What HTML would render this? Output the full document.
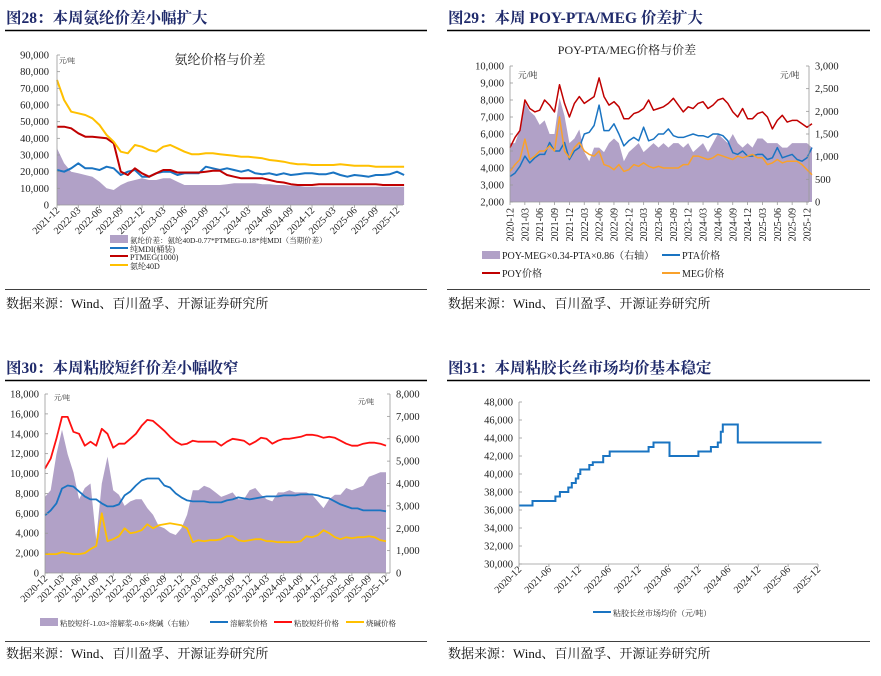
<!DOCTYPE html>
<html><head><meta charset="utf-8"><style>
html,body{margin:0;padding:0;background:#fff;}
svg{display:block;font-family:"Liberation Serif","Noto Serif CJK SC",serif;}
</style></head><body>
<svg id="s" width="881" height="676" viewBox="0 0 881 676" xmlns="http://www.w3.org/2000/svg">
<g font-weight="bold" font-size="15.5" fill="#1f2a6b">
<text x="6" y="23">图28：本周氨纶价差小幅扩大</text>
<text x="448" y="23">图29：本周 POY-PTA/MEG 价差扩大</text>
<text x="6" y="373">图30：本周粘胶短纤价差小幅收窄</text>
<text x="448" y="373">图31：本周粘胶长丝市场均价基本稳定</text>
</g>
<g stroke="#000" stroke-width="1.6">
<line x1="5" y1="30.5" x2="427" y2="30.5"/><line x1="447" y1="30.5" x2="870" y2="30.5"/>
<line x1="5" y1="380.5" x2="427" y2="380.5"/><line x1="447" y1="380.5" x2="870" y2="380.5"/>
</g>
<g stroke="#000" stroke-width="0.8">
<line x1="5" y1="289.5" x2="427" y2="289.5"/><line x1="447" y1="289.5" x2="870" y2="289.5"/>
<line x1="5" y1="641.5" x2="427" y2="641.5"/><line x1="447" y1="641.5" x2="870" y2="641.5"/>
</g>
<g font-size="13" fill="#111">
<text x="6" y="308">数据来源：Wind、百川盈孚、开源证券研究所</text>
<text x="448" y="308">数据来源：Wind、百川盈孚、开源证券研究所</text>
<text x="6" y="658">数据来源：Wind、百川盈孚、开源证券研究所</text>
<text x="448" y="658">数据来源：Wind、百川盈孚、开源证券研究所</text>
</g>
</svg>
<script>
// ---------- Chart 28 data (months from 2021-12, values in 万? thousand yuan) ----------
var c1Spread=[34,25,20,19,18,17,14,10,9,12,14,15,16,15,15,16,16,14,12,12,12,12,12,12,12.5,13,13,13,13,12.5,12.5,12,12,11.5,11.5,11,11,11,11,11,11,11,11,11,11,11,11,11,11,11];
var c1Mdi=[21,20,22,25,22,22,21,23,22,18,20,21,17,17,19,20,20,18,19,19,19,23,22,21,22,21,20,21,19,18.5,19,18,19,18,18.5,19,19,18.5,18.5,19.5,18,17,18,17.5,17,18,18,18.5,20,18];
var c1Ptmeg=[47,47,46,43,41,41,40.5,40,37,20,18,22,19,17,19,21,21,19.5,19.5,19.5,19.5,20,20.5,20.5,18,17,16,16,16,16,15,14,13.5,12.5,12,12,12,12.5,12.5,12.5,12.5,12.5,12.5,12.5,12.5,12.5,12,12,12,12];
var c1Spandex=[75,63,56,55,54,52,48,42,38,32,31,36,35,33,32,35,36,34,32,30.5,30.5,31,31,30.5,30,29.5,29,29,28.5,28,27,26.5,26,25,24.5,24.5,24,24,24,24,24.5,24,23.5,23.5,23.5,23,23,23,23,23];
var c1Ticks=["2021-12","2022-03","2022-06","2022-09","2022-12","2023-03","2023-06","2023-09","2023-12","2024-03","2024-06","2024-09","2024-12","2025-03","2025-06","2025-09","2025-12"];
var c1YTicks=[0,10000,20000,30000,40000,50000,60000,70000,80000,90000];
// ---------- Chart 29 data (months from 2020-12) ----------
var c2Poy=[5.2,5.8,6.2,8.0,7.5,7.3,7.4,8.0,7.7,7.3,8.9,7.8,7.0,7.8,8.2,7.8,8.0,8.2,9.3,8.2,7.7,7.9,7.6,6.9,6.9,7.2,7.3,7.5,8.0,7.4,7.5,7.6,7.8,8.1,7.7,7.3,7.6,7.5,7.8,7.9,7.5,7.7,8.0,8.1,7.8,7.3,7.0,7.5,6.9,6.9,7.2,7.3,7.0,6.3,6.8,7.1,6.7,6.8,6.8,6.6,6.4,6.6];
var c2Pta=[3.5,3.7,4.1,4.7,4.3,4.6,4.8,4.8,5.5,5.0,5.0,5.5,4.5,5.0,5.2,6.0,6.1,6.5,7.7,6.2,6.2,6.6,6.0,5.3,5.6,5.8,5.6,6.4,5.6,5.7,6.0,6.0,6.3,5.9,5.8,5.8,5.9,6.0,5.9,5.9,5.8,6.0,6.0,5.9,5.6,4.9,4.8,5.0,4.7,4.7,4.8,4.8,4.5,4.6,5.2,4.6,4.7,4.8,4.5,4.4,4.6,5.2];
var c2Meg=[3.8,4.2,4.5,5.7,4.5,4.7,5.0,5.0,5.3,5.0,7.0,5.0,4.6,5.2,5.5,5.0,4.8,4.7,5.0,4.2,4.1,3.9,4.2,3.8,3.9,4.2,4.1,4.3,4.1,4.0,4.1,4.0,4.0,4.0,4.0,4.2,4.2,4.7,4.7,4.6,4.5,4.6,4.8,4.7,4.6,4.5,4.7,4.6,4.7,4.8,4.6,4.6,4.2,4.3,4.5,4.3,4.4,4.4,4.4,4.2,3.9,3.6];
var c2Spread=[1300,1300,1600,2200,2000,1900,1700,1800,1500,1500,2300,1900,1300,1400,1600,1100,900,1200,1200,1100,1300,1400,1300,900,1100,1200,1300,1100,1200,1300,1200,1300,1200,1300,1300,1200,1300,1100,1200,1300,1100,1300,1500,1400,1300,1500,1300,1200,1300,1200,1400,1400,1300,1300,1300,1200,1200,1300,1300,1300,1300,1200];
var c2Ticks=["2020-12","2021-03","2021-06","2021-09","2021-12","2022-03","2022-06","2022-09","2022-12","2023-03","2023-06","2023-09","2023-12","2024-03","2024-06","2024-09","2024-12","2025-03","2025-06","2025-09","2025-12"];
var c2YTicks=[2000,3000,4000,5000,6000,7000,8000,9000,10000];
var c2RTicks=[0,500,1000,1500,2000,2500,3000];
// ---------- Chart 30 data ----------
var c3Staple=[10.5,11.5,13.5,15.7,15.7,14.2,14.0,12.8,13.2,12.8,14.5,14.0,12.6,13.0,13.0,13.5,14.0,14.8,15.4,15.3,14.8,14.3,13.7,13.2,12.9,13.0,13.3,13.2,13.2,13.2,13.2,12.8,13.2,13.5,13.4,13.3,12.9,13.2,13.6,13.5,13.0,13.3,13.5,13.5,13.6,13.7,13.9,13.9,13.8,13.6,13.7,13.6,13.3,13.0,12.8,12.8,13.0,13.1,13.1,13.0,12.8];
var c3Pulp=[5.8,6.3,7.0,8.5,8.8,8.7,8.2,7.7,7.4,7.4,7.0,6.7,6.7,6.9,7.8,8.2,8.8,9.3,9.5,9.5,9.5,8.8,8.6,8.0,7.6,7.3,7.2,7.2,7.2,7.1,7.1,7.1,7.3,7.4,7.6,7.5,7.4,7.5,7.6,7.7,7.7,7.7,7.8,7.8,7.8,7.9,7.9,7.9,7.8,7.6,7.5,7.2,6.9,6.7,6.5,6.5,6.3,6.3,6.3,6.3,6.2];
var c3Soda=[1.9,1.9,1.9,2.1,2.0,1.9,1.9,2.0,2.4,2.7,6.0,3.2,3.4,3.7,4.5,4.0,4.1,4.3,4.9,4.5,4.8,4.9,5.0,4.9,4.8,4.5,3.1,3.3,3.2,3.3,3.3,3.4,3.7,3.7,3.3,3.2,3.3,3.4,3.4,3.2,3.2,3.1,3.1,3.1,3.1,3.2,3.7,3.6,3.8,4.3,4.0,3.6,3.4,3.6,3.5,3.6,3.6,3.7,3.6,3.3,3.2];
var c3Spread=[3400,3700,5300,6400,5300,4500,3300,3800,4000,1500,4000,5200,3700,3500,3000,3200,3300,3300,2900,2600,2100,2000,1800,1700,2000,2600,3700,3700,3900,3800,3600,3400,3500,3600,3300,3300,3700,3800,3500,3300,3200,3600,3600,3700,3600,3600,3600,3500,3200,2900,3300,3500,3500,3800,3700,3800,3900,4300,4400,4500,4500];
var c3Ticks=c2Ticks;
var c3YTicks=[0,2000,4000,6000,8000,10000,12000,14000,16000,18000];
var c3RTicks=[0,1000,2000,3000,4000,5000,6000,7000,8000];
// ---------- Chart 31 data (step changes) ----------
var c4StepMonths=[0,2.7,7.3,8.2,9.9,10.6,11.4,11.9,12.3,14.1,14.8,16.9,18.2,26,27,30.2,36,38.5,39.9,40.5,40.9,43.9,60.7];
var c4StepValues=[36500,37000,37500,38000,38500,39000,39500,40000,40500,41000,41300,42000,42500,43000,43500,42000,42500,43000,43500,44700,45500,43500,43500];
var c4Ticks=["2020-12","2021-06","2021-12","2022-06","2022-12","2023-06","2023-12","2024-06","2024-12","2025-06","2025-12"];
var c4YTicks=[30000,32000,34000,36000,38000,40000,42000,44000,46000,48000];

var NS="http://www.w3.org/2000/svg", S=document.getElementById('s');
function mk(tag,attrs,parent){var e=document.createElementNS(NS,tag);for(var k in attrs)e.setAttribute(k,attrs[k]);(parent||S).appendChild(e);return e;}
function fmt(v){return v.toLocaleString('en-US');}
function lin(d0,d1,r0,r1){return function(v){return r0+(v-d0)*(r1-r0)/(d1-d0);};}
function line(arr,xs,ys,col,w,mul){var p=arr.map(function(v,i){return xs(i).toFixed(1)+','+ys(v*mul).toFixed(1);}).join(' ');
 var e=mk('polyline',{points:p,fill:'none',stroke:col,'stroke-width':w,'stroke-linejoin':'round'});return e;}
function area(arr,xs,ys,base,col){var p=xs(0).toFixed(1)+','+base+' '+arr.map(function(v,i){return xs(i).toFixed(1)+','+ys(v).toFixed(1);}).join(' ')+' '+xs(arr.length-1).toFixed(1)+','+base;
 return mk('polygon',{points:p,fill:col,stroke:'none'});}
function yAxis(ticks,ys,x,anchor,dx){ticks.forEach(function(t){var tx=mk('text',{x:x+dx,y:ys(t)+3.5,'font-size':10.5,'text-anchor':anchor,fill:'#222'});tx.textContent=fmt(t);
 
 
 mk('line',{x1:x,x2:x+(anchor=='end'?3:-3),y1:ys(t),y2:ys(t),stroke:'#999','stroke-width':0.8});});
 mk('line',{x1:x,x2:x,y1:ys(ticks[0]),y2:ys(ticks[ticks.length-1]),stroke:'#999','stroke-width':0.8});}
function xAxis(ticks,step,xs,y,x0,x1,rot){mk('line',{x1:x0,x2:x1,y1:y,y2:y,stroke:'#999','stroke-width':0.8});
 ticks.forEach(function(t,i){var x=xs(i*step);mk('line',{x1:x,x2:x,y1:y,y2:y+3,stroke:'#999','stroke-width':0.8});
 var tx=mk('text',{x:0,y:0,'font-size':10,'text-anchor':'end',fill:'#222',transform:'translate('+(x+(rot==-90?3.5:3))+','+(y+6)+') rotate('+rot+')'});tx.textContent=t;
 
 });}
function label(x,y,txt,size,anchor,name){var t=mk('text',{x:x,y:y,'font-size':size,'text-anchor':anchor||'start',fill:'#222'});t.textContent=txt;
 
 return t;}
function legSw(x,y,col,kind,name,txt,size){var g=mk('g',{});
 
 
 if(kind=='area')mk('rect',{x:x,y:y-4,width:18,height:8,fill:col},g);else mk('line',{x1:x,x2:x+18,y1:y,y2:y,stroke:col,'stroke-width':2},g);
 var t=mk('text',{x:x+20,y:y+4,'font-size':size||10.5,fill:'#222'},g);t.textContent=txt;}

// Chart 28
(function(){var xs=lin(0,48,57,397),ys=lin(0,90000,205,55);
 area(c1Spread.map(function(v){return v*1000;}),xs,ys,205,'#b1a1c7');
 line(c1Mdi,xs,ys,'#1a74c2',2,1000);
 line(c1Ptmeg,xs,ys,'#c00000',2,1000);
 line(c1Spandex,xs,ys,'#ffc000',2,1000);
 yAxis(c1YTicks,ys,57,'end',-8);xAxis(c1Ticks,3,xs,205,57,403,-45);
 label(220,64,'氨纶价格与价差',13,'middle','chart28-title');label(59,63,'元/吨',7,'start','y-unit-28');
 legSw(110,239,'#b1a1c7','area','legend-spread-28','氨纶价差：氨纶40D-0.77*PTMEG-0.18*纯MDI（当期价差）',7.5);
 legSw(110,248,'#1a74c2','line','legend-mdi','纯MDI(桶装)',8);
 legSw(110,256,'#c00000','line','legend-ptmeg','PTMEG(1000)',8);
 legSw(110,265,'#ffc000','line','legend-spandex','氨纶40D',8);})();
// Chart 29
(function(){var xs=lin(0,60,510,807),ys=lin(2000,10000,202,66),yr=lin(0,3000,202,66);
 area(c2Spread,xs,yr,202,'#b1a1c7');
 line(c2Poy,xs,ys,'#c00000',1.5,1000);
 line(c2Pta,xs,ys,'#1a74c2',1.5,1000);
 line(c2Meg,xs,ys,'#f9a12b',1.5,1000);
 yAxis(c2YTicks,ys,510,'end',-6);yAxis(c2RTicks,yr,809,'start',6);xAxis(c2Ticks,3,xs,202,510,809,-90);
 label(627,54,'POY-PTA/MEG价格与价差',12,'middle','chart29-title');label(518,78,'元/吨',8.5,'start','y-unit-29');label(780,78,'元/吨',8.5,'start','y-unit-29-right');
 legSw(482,255,'#b1a1c7','area','legend-spread-29','POY-MEG×0.34-PTA×0.86（右轴）',10);
 legSw(662,255,'#1a74c2','line','legend-pta','PTA价格',10);
 legSw(482,273,'#c00000','line','legend-poy','POY价格',10);
 legSw(662,273,'#f9a12b','line','legend-meg','MEG价格',10);})();
// Chart 30
(function(){var xs=lin(0,60,45,386),ys=lin(0,18000,573,394),yr=lin(0,8000,573,394);
 area(c3Spread,xs,yr,573,'#b1a1c7');
 line(c3Pulp,xs,ys,'#1a74c2',1.8,1000);
 line(c3Staple,xs,ys,'#ff1010',1.8,1000);
 line(c3Soda,xs,ys,'#ffc000',1.8,1000);
 yAxis(c3YTicks,ys,45,'end',-6);yAxis(c3RTicks,yr,390,'start',6);xAxis(c3Ticks,3,xs,573,45,390,-45);
 label(54,400,'元/吨',7,'start','y-unit-30');label(358,404,'元/吨',7,'start','y-unit-30-right');
 legSw(40,622,'#b1a1c7','area','legend-spread-30','粘胶短纤-1.03×溶解浆-0.6×烧碱（右轴）',7.5);
 legSw(210,622,'#1a74c2','line','legend-pulp','溶解浆价格',7.5);
 legSw(274,622,'#ff1010','line','legend-staple','粘胶短纤价格',7.5);
 legSw(346,622,'#ffc000','line','legend-soda','烧碱价格',7.5);})();
// Chart 31
(function(){var xs=lin(0,60,519,818),ys=lin(30000,48000,564,402);
 var pts=[];for(var i=0;i<c4StepMonths.length;i++){var x=xs(c4StepMonths[i]);if(i>0)pts.push(x.toFixed(1)+','+ys(c4StepValues[i-1]).toFixed(1));pts.push(x.toFixed(1)+','+ys(c4StepValues[i]).toFixed(1));}
 var l=mk('polyline',{points:pts.join(' '),fill:'none',stroke:'#1a74c2','stroke-width':2});
 
 yAxis(c4YTicks,ys,519,'end',-6);xAxis(c4Ticks,6,xs,564,519,818,-45);
 legSw(593,612,'#1a74c2','line','legend-filament','粘胶长丝市场均价（元/吨）',8);})();
</script>
</body></html>
